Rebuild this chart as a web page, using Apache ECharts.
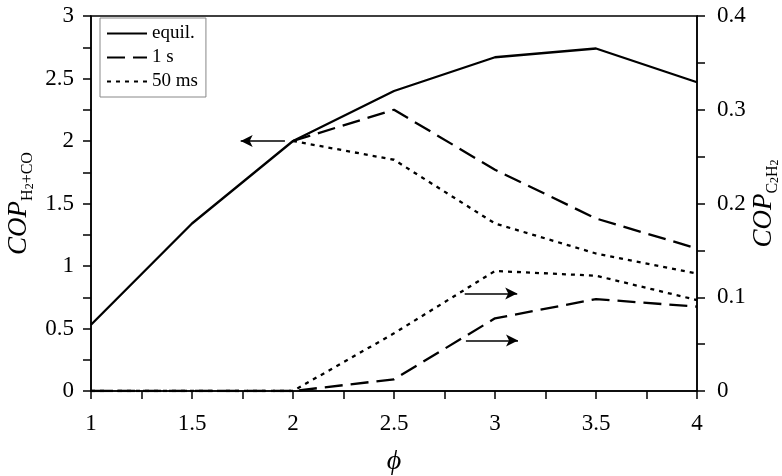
<!DOCTYPE html>
<html>
<head>
<meta charset="utf-8">
<script src="https://cdn.jsdelivr.net/npm/echarts@6/dist/echarts.min.js"></script>
<style>html,body{margin:0;padding:0;background:#fff}#c{width:782px;height:476px}</style>
</head>
<body>
<div id="c"></div>
<script>
var phi = [1, 1.5, 2, 2.5, 3, 3.5, 4];
var equilH2CO = [0.53, 1.34, 2.00, 2.40, 2.67, 2.74, 2.47];
var oneSecH2CO = [null, null, 2.00, 2.25, 1.77, 1.38, 1.14];
var fiftyMsH2CO = [null, null, 2.00, 1.85, 1.34, 1.10, 0.94];
var oneSecC2H2 = [0, 0, 0, 0.0125, 0.0775, 0.098, 0.090];
var fiftyMsC2H2 = [0, 0, 0, 0.0615, 0.128, 0.123, 0.097];
var leftTicks = [0, 0.5, 1, 1.5, 2, 2.5, 3];
var rightTicks = [0, 0.1, 0.2, 0.3, 0.4];
var xTicks = [1, 1.5, 2, 2.5, 3, 3.5, 4];
var arrowLeft = [[1.96, 2.0], [1.741, 2.0]];
var arrowRight1 = [[2.85, 0.104], [3.11, 0.104]];
var arrowRight2 = [[2.856, 0.054], [3.114, 0.054]];

function pairs(ys) { return phi.map(function (x, i) { return [x, ys[i]]; }); }
var FONT = 'Liberation Serif';
var arrowStyle = { color: '#000', width: 1.5, type: 'solid' };
function arrowML(a) {
  return {
    silent: true, animation: false, symbol: ['none', 'arrow'], symbolSize: [9, 12],
    label: { show: false }, lineStyle: arrowStyle, emphasis: { disabled: true },
    data: [[{ coord: a[0] }, { coord: a[1] }]]
  };
}
var chart = echarts.init(document.getElementById('c'));
var axisCommon = {
  axisLine: { show: true, lineStyle: { color: '#000', width: 1.5 } },
  axisTick: { show: true, inside: false, length: 8, lineStyle: { color: '#000', width: 1.5 } },
  minorTick: { show: true, splitNumber: 2, length: 8, lineStyle: { color: '#000', width: 1.5 } },
  splitLine: { show: false },
  nameMoveOverlap: false
};
var richTitle = {
  i: { fontFamily: FONT, fontSize: 27, fontStyle: 'italic', lineHeight: 34, color: '#000' },
  s: { fontFamily: FONT, fontSize: 16, verticalAlign: 'bottom', lineHeight: 18, color: '#000' },
  ss: { fontFamily: FONT, fontSize: 12, verticalAlign: 'bottom', lineHeight: 9, color: '#000' }
};
var DASH = [18, 8], DOT = [4, 5];
chart.setOption({
  animation: false,
  backgroundColor: '#fff',
  grid: { left: 91, right: 85, top: 16, bottom: 85, containLabel: false, outerBoundsMode: 'none',
    show: true, borderColor: '#000', borderWidth: 1.5, backgroundColor: 'transparent' },
  legend: {
    orient: 'vertical', left: 100, top: 18, padding: [6, 8, 6, 6], itemGap: 5,
    itemWidth: 40, itemHeight: 20, borderColor: '#888', borderWidth: 1,
    itemStyle: { opacity: 0 },
    textStyle: { fontFamily: FONT, fontSize: 19, color: '#000' },
    data: ['equil.', '1 s', '50 ms']
  },
  xAxis: Object.assign({}, axisCommon, {
    type: 'value', min: xTicks[0], max: xTicks[xTicks.length - 1], interval: 0.5,
    axisLabel: { color: '#000', fontFamily: FONT, fontSize: 23, margin: 21 },
    name: 'ϕ', nameLocation: 'middle', nameGap: 57,
    nameTextStyle: { fontFamily: FONT, fontSize: 28, fontStyle: 'italic', color: '#000' }
  }),
  yAxis: [
    Object.assign({}, axisCommon, {
      type: 'value', min: leftTicks[0], max: leftTicks[leftTicks.length - 1], interval: 0.5, position: 'left',
      axisLabel: { color: '#000', fontFamily: FONT, fontSize: 23, margin: 17 },
      name: '{i|COP}{s|H}{ss|2}{s|+CO}', nameLocation: 'middle', nameGap: 55, nameRotate: 90,
      nameTextStyle: { color: '#000', fontFamily: FONT, rich: richTitle }
    }),
    Object.assign({}, axisCommon, {
      type: 'value', min: rightTicks[0], max: rightTicks[rightTicks.length - 1], interval: 0.1, position: 'right',
      axisLabel: { color: '#000', fontFamily: FONT, fontSize: 23, margin: 20 },
      name: '{i|COP}{s|C}{ss|2}{s|H}{ss|2}', nameLocation: 'middle', nameGap: 50, nameRotate: 90,
      nameTextStyle: { color: '#000', fontFamily: FONT, rich: richTitle }
    })
  ],
  series: [
    { name: 'equil.', type: 'line', yAxisIndex: 0, data: pairs(equilH2CO), symbol: 'none',
      lineStyle: { color: '#000', width: 2.3, type: 'solid' }, itemStyle: { color: '#000' } },
    { name: '1 s', type: 'line', yAxisIndex: 0, data: pairs(oneSecH2CO), symbol: 'none',
      lineStyle: { color: '#000', width: 2.3, type: DASH }, itemStyle: { color: '#000' },
      markLine: arrowML(arrowLeft) },
    { name: '50 ms', type: 'line', yAxisIndex: 0, data: pairs(fiftyMsH2CO), symbol: 'none',
      lineStyle: { color: '#000', width: 2.3, type: DOT }, itemStyle: { color: '#000' } },
    { name: '1 s', type: 'line', yAxisIndex: 1, data: pairs(oneSecC2H2), symbol: 'none',
      lineStyle: { color: '#000', width: 2.3, type: DASH }, itemStyle: { color: '#000' },
      markLine: arrowML(arrowRight2) },
    { name: '50 ms', type: 'line', yAxisIndex: 1, data: pairs(fiftyMsC2H2), symbol: 'none',
      lineStyle: { color: '#000', width: 2.3, type: DOT }, itemStyle: { color: '#000' },
      markLine: arrowML(arrowRight1) }
  ]
});
</script>
</body>
</html>
